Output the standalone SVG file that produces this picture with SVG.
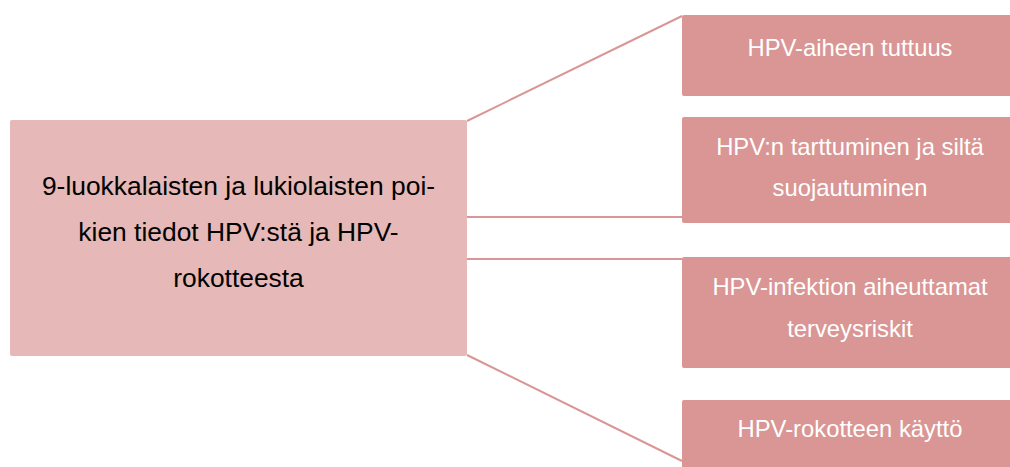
<svg xmlns="http://www.w3.org/2000/svg" width="1010" height="467" viewBox="0 0 1010 467">
<style>
.main{fill:#E6B8B7}
.sub{fill:#D99694}
.conn{stroke:#D99694;stroke-width:2;fill:none}
.tm{font-family:"Liberation Sans",Arial,sans-serif;font-size:26.4px;fill:#000;text-anchor:middle}
.ts{font-family:"Liberation Sans",Arial,sans-serif;font-size:23.8px;fill:#fff;text-anchor:middle}
</style>
<rect width="1010" height="467" fill="#fff"/>
<g id="connectors">
<line class="conn" x1="467" y1="121" x2="682" y2="16"/>
<line class="conn" x1="467" y1="217" x2="682" y2="217"/>
<line class="conn" x1="467" y1="259" x2="682" y2="259"/>
<line class="conn" x1="467" y1="355" x2="682" y2="461"/>
</g>
<g id="main">
<rect class="main" x="10" y="120" width="457" height="236" rx="2"/>
<text class="tm" x="238.5" y="195">9-luokkalaisten ja lukiolaisten poi-</text>
<text class="tm" x="238.5" y="241">kien tiedot HPV:stä ja HPV-</text>
<text class="tm" x="238.5" y="287">rokotteesta</text>
</g>
<g id="n1">
<rect class="sub" x="682" y="15" width="336" height="81" rx="2"/>
<text class="ts" x="850" y="56">HPV-aiheen tuttuus</text>
</g>
<g id="n2">
<rect class="sub" x="682" y="117" width="336" height="106" rx="2"/>
<text class="ts" x="850" y="155">HPV:n tarttuminen ja siltä</text>
<text class="ts" x="850" y="196">suojautuminen</text>
</g>
<g id="n3">
<rect class="sub" x="682" y="257" width="336" height="111" rx="2"/>
<text class="ts" x="850" y="295">HPV-infektion aiheuttamat</text>
<text class="ts" x="850" y="337">terveysriskit</text>
</g>
<g id="n4">
<rect class="sub" x="682" y="400" width="336" height="80" rx="2"/>
<text class="ts" x="850" y="437">HPV-rokotteen käyttö</text>
</g>
</svg>
